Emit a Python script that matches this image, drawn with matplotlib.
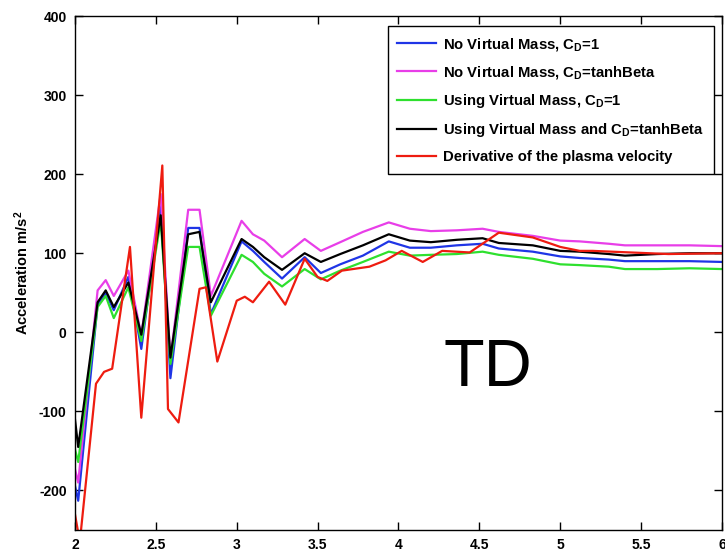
import matplotlib
matplotlib.use("Agg")
import matplotlib.pyplot as plt

plt.rcParams['font.family'] = ['Liberation Sans', 'DejaVu Sans']
plt.rcParams['mathtext.fontset'] = 'custom'
plt.rcParams['mathtext.rm'] = 'Liberation Sans:bold'
plt.rcParams['mathtext.it'] = 'Liberation Sans:bold'
plt.rcParams['mathtext.bf'] = 'Liberation Sans:bold'
plt.rcParams['axes.unicode_minus'] = False

# Time axis shared by the four model runs
t_model = [2.0, 2.02, 2.14, 2.19, 2.24, 2.33, 2.41, 2.53, 2.59, 2.70, 2.77, 2.84,
           3.03, 3.10, 3.17, 3.28, 3.42, 3.52, 3.64, 3.78, 3.94, 4.07, 4.20, 4.36,
           4.52, 4.62, 4.83, 5.0, 5.12, 5.3, 5.4, 5.6, 5.8, 6.0]

acc_novm_cd1 = [-194, -213, 35, 50, 28, 70, -21, 160, -58, 132, 132, 23,
                115, 103, 89, 68, 95, 75, 86, 97, 115, 107, 107, 110,
                112, 106, 102, 96, 94, 92, 90, 90, 90, 89]
acc_novm_tanh = [-173, -190, 53, 66, 46, 78, -4, 175, -35, 155, 155, 46,
                 141, 124, 116, 95, 118, 103, 114, 127, 139, 131, 128, 129,
                 131, 127, 122, 116, 115, 112, 110, 110, 110, 109]
acc_vm_cd1 = [-148, -164, 32, 46, 18, 57, -11, 141, -40, 108, 108, 21,
              98, 89, 74, 58, 80, 67, 78, 89, 102, 97, 98, 99,
              102, 98, 93, 86, 85, 83, 80, 80, 81, 80]
acc_vm_tanh = [-110, -145, 38, 53, 32, 63, -3, 148, -32, 124, 127, 38,
               118, 108, 95, 79, 100, 89, 99, 110, 124, 116, 114, 117,
               119, 113, 110, 103, 102, 99, 97, 99, 100, 100]

# Plasma velocity derivative
t_plasma = [2.0, 2.03, 2.13, 2.18, 2.23, 2.34, 2.41, 2.54, 2.575, 2.64, 2.77, 2.81,
            2.88, 3.0, 3.05, 3.1, 3.2, 3.30, 3.42, 3.5, 3.56, 3.65, 3.82, 3.92,
            4.02, 4.15, 4.27, 4.44, 4.62, 4.83, 5.0, 5.12, 5.2, 5.67, 6.0]
acc_plasma = [-230, -265, -65, -50, -46, 108, -108, 211, -97, -114, 55, 57,
              -37, 40, 45, 38, 64, 35, 93, 70, 65, 78, 83, 91,
              103, 89, 103, 101, 126, 120, 108, 103, 103, 99, 100]

labels = ['No Virtual Mass, C$_\\mathregular{D}$=1',
          'No Virtual Mass, C$_\\mathregular{D}$=tanhBeta',
          'Using Virtual Mass, C$_\\mathregular{D}$=1',
          'Using Virtual Mass and C$_\\mathregular{D}$=tanhBeta',
          'Derivative of the plasma velocity']
colors = ['#1f35e6', '#e83ee8', '#2ee02e', '#000000', '#ee1c10']

x_ticks = [2, 2.5, 3, 3.5, 4, 4.5, 5, 5.5, 6]
x_ticklabels = ['2', '2.5', '3', '3.5', '4', '4.5', '5', '5.5', '6']
y_ticks = [-200, -100, 0, 100, 200, 300, 400]

fig = plt.figure(figsize=(7.25, 5.53), dpi=100)
ax = fig.add_axes([0.1034, 0.0416, 0.8925, 0.9294])

series = [acc_novm_cd1, acc_novm_tanh, acc_vm_cd1, acc_vm_tanh]
for ys, lab, c in zip(series, labels[:4], colors[:4]):
    ax.plot(t_model, ys, color=c, lw=1.6, label=lab)
ax.plot(t_plasma, acc_plasma, color=colors[4], lw=1.6, label=labels[4])

ax.set_xlim(2, 6)
ax.set_ylim(-250, 400)
ax.set_xticks(x_ticks)
ax.set_xticklabels(x_ticklabels)
ax.set_yticks(y_ticks)
ax.tick_params(direction='in', top=True, right=True, length=6, width=1,
               labelsize=10, pad=6)
for lab in ax.get_xticklabels() + ax.get_yticklabels():
    lab.set_fontweight('bold')
for sp in ax.spines.values():
    sp.set_linewidth(1)

ax.set_ylabel('Acceleration m/s$^\\mathregular{2}$', fontsize=10.5,
              fontweight='bold', labelpad=6)

ax.text(4.55, -46, 'TD', fontsize=48, ha='center', va='center')

leg = ax.legend(loc='upper right', bbox_to_anchor=(0.9876, 0.9805),
                borderaxespad=0, fancybox=False, framealpha=1,
                edgecolor='black', prop={'weight': 'bold', 'size': 10.7},
                handlelength=2.6, labelspacing=0.75, borderpad=0.65,
                handletextpad=0.5)
leg.get_frame().set_linewidth(1)

fig.savefig('out.png', dpi=100)
